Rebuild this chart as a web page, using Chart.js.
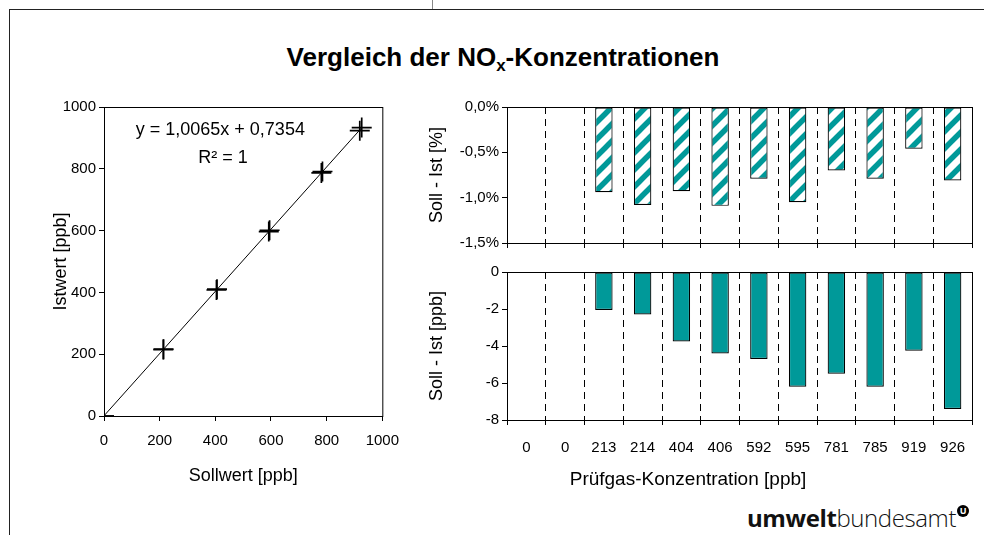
<!DOCTYPE html>
<html>
<head>
<meta charset="utf-8">
<script src="https://cdn.jsdelivr.net/npm/chart.js@4.4.0/dist/chart.umd.min.js"></script>
<style>
	html, body { margin: 0; padding: 0; background: #fff; }
	body { width: 984px; height: 535px; position: relative; overflow: hidden; font-family: 'Liberation Sans', Arial, sans-serif; }
	.frameTop { position: absolute; left: 9px; top: 9px; width: 980px; height: 0; border-top: 1.5px solid #222; }
	.frameLeft { position: absolute; left: 9px; top: 9px; width: 0; height: 540px; border-left: 1.5px solid #222; }
	.topMark { position: absolute; left: 432px; top: 0; width: 1px; height: 9px; background: #888; }
	#title { position: absolute; left: 0; top: 42px; width: 1006px; text-align: center; font-weight: bold; font-size: 26px; color: #000; }
	#title sub { font-size: 17px; vertical-align: -5px; line-height: 0; }
	.box { position: absolute; }
	#xTitleRight { position: absolute; left: 490px; top: 468px; width: 396px; text-align: center; font-size: 19px; color: #000; }
	#logo { position: absolute; left: 747px; top: 501px; font-family: 'Open Sans', sans-serif; font-size: 24px; color: #111; letter-spacing: -0.4px; white-space: nowrap; }
	#logo b { font-weight: 700; }
	#logo span.rest { font-weight: 300; }
	#logo .mark { display: inline-block; width: 12px; height: 12px; border-radius: 50%; background: #000; color: #fff; font-size: 9px; font-weight: 700; line-height: 12px; text-align: center; vertical-align: 13px; margin-left: 1px; letter-spacing: 0; }
</style>
</head>
<body>
<div class="frameTop"></div>
<div class="frameLeft"></div>
<div class="topMark"></div>
<div id="title">Vergleich der NO<sub>x</sub>-Konzentrationen</div>

<div class="box" style="left:30px; top:95px;"><canvas id="scatterChart" width="380" height="400"></canvas></div>
<div class="box" style="left:420px; top:95px;"><canvas id="percentChart" width="564" height="160"></canvas></div>
<div class="box" style="left:420px; top:260px;"><canvas id="ppbChart" width="564" height="235"></canvas></div>

<div id="xTitleRight">Prüfgas-Konzentration [ppb]</div>
<div id="logo"><b>umwelt</b><span class="rest">bundesamt</span><span class="mark">U</span></div>

<script>
// Left: Soll vs. Ist (ppb)
const sollwert = [0, 0, 213, 214, 404, 406, 592, 595, 781, 785, 919, 926];
const istwert = [0, 0, 215.1, 216.3, 407.8, 410.4, 596.7, 601.2, 786.5, 791.2, 923.3, 933.4];
// trend line end points as drawn
const trendX = [0, 926];
const trendY = [0.7, 932.8];
const trendLabel = 'y = 1,0065x + 0,7354';
const r2Label = 'R² = 1';

// Right: deviations per test gas concentration
const kategorien = ['0', '0', '213', '214', '404', '406', '592', '595', '781', '785', '919', '926'];
const diffProzent = [0, 0, -0.94, -1.08, -0.93, -1.09, -0.79, -1.05, -0.70, -0.79, -0.46, -0.81];
const diffPpb = [0, 0, -2.05, -2.3, -3.75, -4.4, -4.7, -6.2, -5.5, -6.2, -4.25, -7.4];

const achsenTicks = [0, 200, 400, 600, 800, 1000];

const FONT = "'Liberation Sans', Arial, sans-serif";
const TEAL = '#009999';

Chart.defaults.font.family = FONT;
Chart.defaults.font.size = 15;
Chart.defaults.color = '#000';
Chart.defaults.animation = false;

// solid box round the plot area, like Excel
const plotFrame = {
	id: 'plotFrame',
	afterDatasetsDraw(chart) {
		const a = chart.chartArea;
		const ctx = chart.ctx;
		ctx.save();
		ctx.strokeStyle = '#000';
		ctx.lineWidth = 1;
		ctx.setLineDash([]);
		ctx.strokeRect(a.left + 0.5, a.top + 0.5, a.right - a.left, a.bottom - a.top);
		ctx.restore();
	},
};

// equation of the trend line
const trendText = {
	id: 'trendText',
	afterDraw(chart) {
		const ctx = chart.ctx;
		const xs = chart.scales.x;
		const ys = chart.scales.y;
		ctx.save();
		ctx.fillStyle = '#000';
		ctx.font = '18px ' + FONT;
		ctx.textAlign = 'center';
		ctx.textBaseline = 'middle';
		ctx.fillText(trendLabel, xs.getPixelForValue(418), ys.getPixelForValue(925));
		ctx.fillText(r2Label, xs.getPixelForValue(428), ys.getPixelForValue(834));
		ctx.restore();
	},
};

function fixSize(prop, value) {
	return function (scale) {
		scale[prop] = value;
	};
}

function hatchPattern() {
	const n = 17;
	const c = document.createElement('canvas');
	c.width = n;
	c.height = n;
	const g = c.getContext('2d');
	g.fillStyle = '#fff';
	g.fillRect(0, 0, n, n);
	g.strokeStyle = TEAL;
	g.lineWidth = 5.5;
	g.beginPath();
	g.moveTo(-n / 2, n / 2); g.lineTo(n / 2, -n / 2);
	g.moveTo(0, n); g.lineTo(n, 0);
	g.moveTo(n / 2, n * 1.5); g.lineTo(n * 1.5, n / 2);
	g.stroke();
	return g.createPattern(c, 'repeat');
}

function renderScatter() {
	const ctx = document.getElementById('scatterChart').getContext('2d');
	new Chart(ctx, {
		type: 'scatter',
		data: {
			datasets: [
				{
					label: 'Messwerte',
					data: sollwert.map((s, i) => ({ x: s, y: istwert[i] })),
					pointStyle: 'cross',
					pointRadius: 10,
					pointBorderWidth: 1.7,
					borderColor: '#000',
					backgroundColor: '#000',
				},
				{
					label: 'Trend',
					data: trendX.map((x, i) => ({ x: x, y: trendY[i] })),
					showLine: true,
					pointRadius: 0,
					borderColor: '#000',
					borderWidth: 1,
				},
			],
		},
		options: {
			responsive: false,
			layout: { padding: { top: 10, right: 23, bottom: 0, left: 0 } },
			plugins: { legend: { display: false }, tooltip: { enabled: false } },
			scales: {
				x: {
					type: 'linear',
					min: 0,
					max: 1000,
					afterBuildTicks: (s) => { s.ticks = achsenTicks.map((v) => ({ value: v })); },
					afterFit: fixSize('height', 79),
					ticks: { padding: 11, callback: (v) => String(v), maxRotation: 0 },
					grid: { drawOnChartArea: false, tickLength: 5, tickColor: '#000' },
					border: { color: '#000' },
					title: { display: true, text: 'Sollwert [ppb]', font: { size: 18 }, padding: { top: 0, bottom: 8 } },
				},
				y: {
					type: 'linear',
					min: 0,
					max: 1000,
					afterBuildTicks: (s) => { s.ticks = achsenTicks.map((v) => ({ value: v })); },
					afterFit: fixSize('width', 74),
					ticks: { padding: 3, callback: (v) => String(v) },
					grid: { drawOnChartArea: false, tickLength: 5, tickColor: '#000' },
					border: { color: '#000' },
					title: { display: true, text: 'Istwert [ppb]', font: { size: 18 }, padding: { top: 20, bottom: 0 } },
				},
			},
		},
		plugins: [plotFrame, trendText],
	});
}

function categoryAxis(height, showLabels) {
	return {
		type: 'category',
		afterFit: fixSize('height', height),
		ticks: { display: showLabels, padding: 14, maxRotation: 0, autoSkip: false },
		grid: { offset: true, color: '#000', lineWidth: 1, tickLength: 5, tickColor: '#000', borderDash: [7, 5] },
		border: { color: '#000', dash: [7, 5] },
	};
}

function renderPercent() {
	const ctx = document.getElementById('percentChart').getContext('2d');
	new Chart(ctx, {
		type: 'bar',
		data: {
			labels: kategorien,
			datasets: [
				{
					label: 'Soll - Ist [%]',
					data: diffProzent,
					backgroundColor: hatchPattern(),
					borderColor: '#000',
					borderWidth: 1.2,
					borderSkipped: false,
					categoryPercentage: 1,
					barPercentage: 0.45,
				},
			],
		},
		options: {
			responsive: false,
			layout: { padding: { top: 10, right: 12, bottom: 0, left: 0 } },
			plugins: { legend: { display: false }, tooltip: { enabled: false } },
			scales: {
				x: categoryAxis(10, false),
				y: {
					min: -1.5,
					max: 0,
					ticks: { stepSize: 0.5, padding: 3, callback: (v) => v.toFixed(1).replace('.', ',') + '%' },
					afterFit: fixSize('width', 87),
					grid: { drawOnChartArea: false, tickLength: 5, tickColor: '#000' },
					border: { color: '#000' },
					title: { display: true, text: 'Soll - Ist [%]', font: { size: 18 }, padding: { top: 6, bottom: 0 } },
				},
			},
		},
		plugins: [plotFrame],
	});
}

function renderPpb() {
	const ctx = document.getElementById('ppbChart').getContext('2d');
	new Chart(ctx, {
		type: 'bar',
		data: {
			labels: kategorien,
			datasets: [
				{
					label: 'Soll - Ist [ppb]',
					data: diffPpb,
					backgroundColor: TEAL,
					borderColor: '#000',
					borderWidth: 1.2,
					borderSkipped: false,
					categoryPercentage: 1,
					barPercentage: 0.45,
				},
			],
		},
		options: {
			responsive: false,
			layout: { padding: { top: 11, right: 12, bottom: 0, left: 0 } },
			plugins: { legend: { display: false }, tooltip: { enabled: false } },
			scales: {
				x: categoryAxis(75, true),
				y: {
					min: -8,
					max: 0,
					ticks: { stepSize: 2, padding: 3, callback: (v) => String(v) },
					afterFit: fixSize('width', 87),
					grid: { drawOnChartArea: false, tickLength: 5, tickColor: '#000' },
					border: { color: '#000' },
					title: { display: true, text: 'Soll - Ist [ppb]', font: { size: 18 }, padding: { top: 6, bottom: 0 } },
				},
			},
		},
		plugins: [plotFrame],
	});
}

document.addEventListener('DOMContentLoaded', function () {
	renderScatter();
	renderPercent();
	renderPpb();
});
</script>
</body>
</html>
